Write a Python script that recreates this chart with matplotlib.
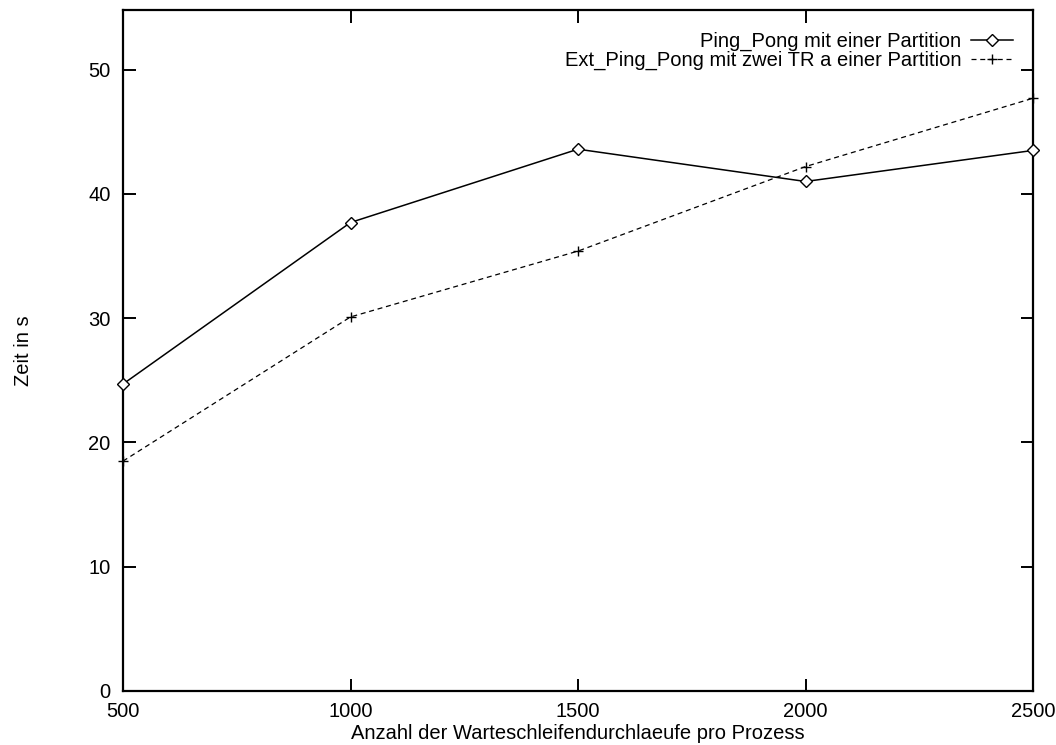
import matplotlib.pyplot as plt

plt.rcParams['font.family'] = ['Liberation Sans', 'DejaVu Sans']

""" ------------------------------------------------------------- """
x = [500, 1000, 1500, 2000, 2500]
ping_pong = [24.7, 37.7, 43.6, 41.0, 43.5]
ext_ping_pong = [18.5, 30.1, 35.4, 42.2, 47.7]

label_1 = 'Ping_Pong mit einer Partition'
label_2 = 'Ext_Ping_Pong mit zwei TR a einer Partition'
""" ------------------------------------------------------------- """

fig = plt.figure(figsize=(10.56, 7.45), dpi=100)
ax = fig.add_axes([123 / 1056, 1 - 691 / 745, 910 / 1056, 681 / 745])

ax.plot(x, ping_pong, color='black', lw=1.1, marker='D', markersize=6.5,
        markerfacecolor='white', markeredgecolor='black', markeredgewidth=1.0,
        label=label_1, clip_on=False, zorder=3)
ax.plot(x, ext_ping_pong, color='black', lw=0.9, dashes=(4, 3), marker='+',
        markersize=7, markeredgewidth=1.0, label=label_2, clip_on=False, zorder=3)

ax.set_xlim(500, 2500)
ax.set_ylim(0, 54.8)
ax.set_xticks([500, 1000, 1500, 2000, 2500])
ax.set_yticks([0, 10, 20, 30, 40, 50])
ax.tick_params(direction='in', length=9, width=1.4, top=True, right=True,
               labelsize=14.5, pad=9)
ax.tick_params(axis='x', pad=8)
for s in ax.spines.values():
    s.set_linewidth(1.6)

ax.set_xlabel('Anzahl der Warteschleifendurchlaeufe pro Prozess', fontsize=14.5, labelpad=2)
ax.set_ylabel('Zeit in s', fontsize=14.5, labelpad=40)

leg = ax.legend(loc='upper right', bbox_to_anchor=(0.994, 0.989), frameon=False,
                fontsize=14.5, markerfirst=False, handlelength=2.1, handletextpad=0.5,
                labelspacing=0.0, borderaxespad=0.3)
for t in leg.get_texts():
    t.set_ha('right')

fig.savefig('out.png', dpi=100)
